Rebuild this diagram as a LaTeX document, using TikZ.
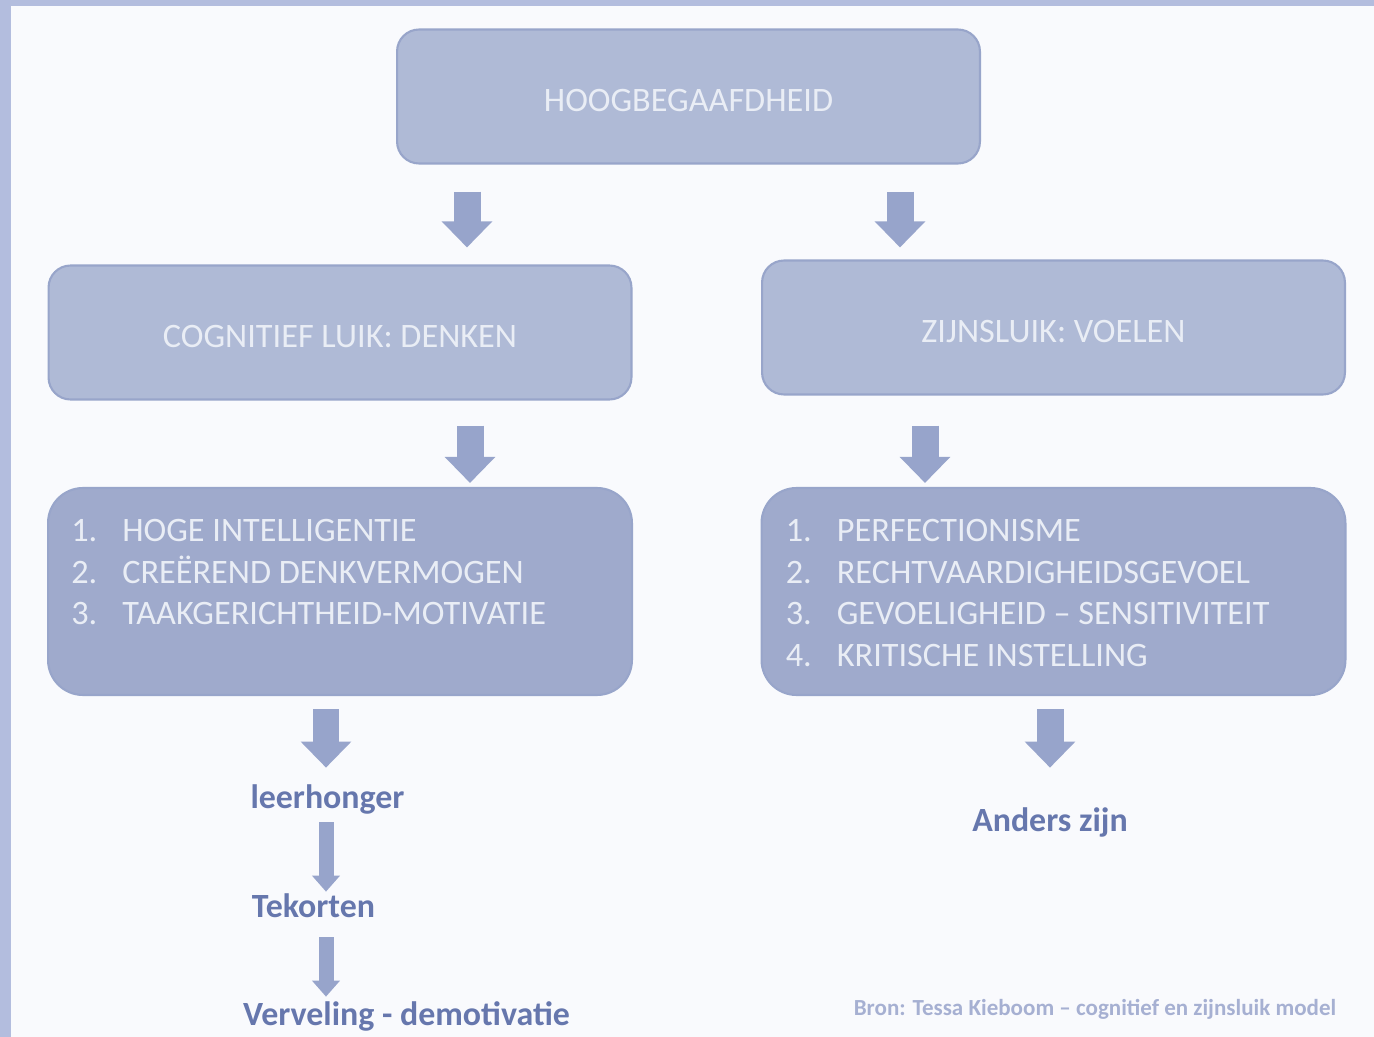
\documentclass[tikz,border=0pt]{standalone}
\usepackage{fontspec}
\setmainfont{Carlito}
\usetikzlibrary{arrows.meta,positioning}

\definecolor{frame}{HTML}{B3BDDE}
\definecolor{page}{HTML}{F9FAFD}
\definecolor{boxfill}{HTML}{AFBAD6}
\definecolor{boxline}{HTML}{98A5CA}
\definecolor{listfill}{HTML}{9FAACC}
\definecolor{boxtext}{HTML}{E9EDF5}
\definecolor{arrowfill}{HTML}{97A4CB}
\definecolor{labeltext}{HTML}{6677AD}
\definecolor{srctext}{HTML}{A6B0D2}

\tikzset{
  titlebox/.style={draw=boxline, fill=boxfill, line width=1.2pt, rounded corners=0.44cm,
    minimum width=11.66cm, minimum height=2.68cm, text=boxtext, text height=0.62cm, text depth=0pt,
    font=\fontsize{19.5}{23.6}\selectfont},
  listbox/.style={draw=boxline, fill=listfill, line width=1.2pt, rounded corners=0.7cm,
    minimum width=11.68cm, minimum height=4.14cm},
  listtext/.style={inner sep=0pt, text=boxtext, font=\fontsize{19.5}{23.6}\selectfont},
  bigarrow/.style={draw=arrowfill, line width=0.54cm, -{Triangle[width=0.98cm,length=0.52cm]}},
  smallarrow/.style={draw=arrowfill, line width=0.3cm, -{Triangle[width=0.54cm,length=0.32cm]}},
  effect/.style={inner sep=0pt, text height=0.48cm, text depth=0.14cm, text=labeltext,
    font=\fontsize{19.3}{23}\selectfont\bfseries}
}

\begin{document}
\begin{tikzpicture}[x=0.02cm, y=-0.02cm]
\useasboundingbox (0,0) rectangle (1374,1037);
\fill[frame] (0,0) rectangle (1374,1037);
\fill[page] (11,6) rectangle (1374,1037);

\node[titlebox] (top) at (688.5,96.5) {HOOGBEGAAFDHEID};
\node[titlebox] (cl) at (340,332.5) {COGNITIEF LUIK: DENKEN};
\node[titlebox] (zl) at (1053.5,327.5) {ZIJNSLUIK: VOELEN};

\node[listbox] (ll) at (340,591.5) {};
\node[listbox] (rl) at (1053.5,591.5) {};
\node[listtext, anchor=base west] (lltxt) at ([xshift=0.48cm,yshift=-1.1cm]ll.north west) {%
  \begin{tabular}[t]{@{}p{1.02cm}@{}l@{}}
  1. & HOGE INTELLIGENTIE\\
  2. & CREËREND DENKVERMOGEN\\
  3. & TAAKGERICHTHEID-MOTIVATIE
  \end{tabular}};
\node[listtext, anchor=base west] (rltxt) at ([xshift=0.5cm,yshift=-1.1cm]rl.north west) {%
  \begin{tabular}[t]{@{}p{1.02cm}@{}l@{}}
  1. & PERFECTIONISME\\
  2. & RECHTVAARDIGHEIDSGEVOEL\\
  3. & GEVOELIGHEID – SENSITIVITEIT\\
  4. & KRITISCHE INSTELLING
  \end{tabular}};

\node[effect, anchor=base] (lh) at (327.5,808) {leerhonger};
\node[effect, anchor=base] (tk) at (313.5,917) {Tekorten};
\node[effect, anchor=base] (vd) at (406.5,1025) {Verveling - demotivatie};
\node[effect, anchor=base] (az) at (1050,831) {Anders zijn};
\node[text=srctext, font=\fontsize{13.1}{15}\selectfont\bfseries, anchor=base] (src) at (1095,1015)
  {Bron: Tessa Kieboom – cognitief en zijnsluik model};

\coordinate (a1) at (467,0);
\coordinate (a2) at (900,0);
\coordinate (a3) at (470,0);
\coordinate (a4) at (925,0);
\coordinate (a5) at (326,0);
\coordinate (a6) at (1050,0);

\draw[bigarrow, shorten <=0.54cm, shorten >=0.34cm] (top.south -| a1) -- (cl.north -| a1);
\draw[bigarrow, shorten <=0.54cm, shorten >=0.24cm] (top.south -| a2) -- (zl.north -| a2);
\draw[bigarrow, shorten <=0.5cm, shorten >=0.08cm] (cl.south -| a3) -- (ll.north -| a3);
\draw[bigarrow, shorten <=0.6cm, shorten >=0.08cm] (zl.south -| a4) -- (rl.north -| a4);
\draw[bigarrow, shorten <=0.26cm, shorten >=0.32cm] (ll.south -| a5) -- (lh.north -| a5);
\draw[bigarrow, shorten <=0.26cm, shorten >=0.78cm] (rl.south -| a6) -- (az.north -| a6);
\draw[smallarrow, shorten <=0.14cm, shorten >=0.02cm] (lh.south -| a5) -- (tk.north -| a5);
\draw[smallarrow, shorten <=0.26cm, shorten >=0.08cm] (tk.south -| a5) -- (vd.north -| a5);
\end{tikzpicture}
\end{document}
